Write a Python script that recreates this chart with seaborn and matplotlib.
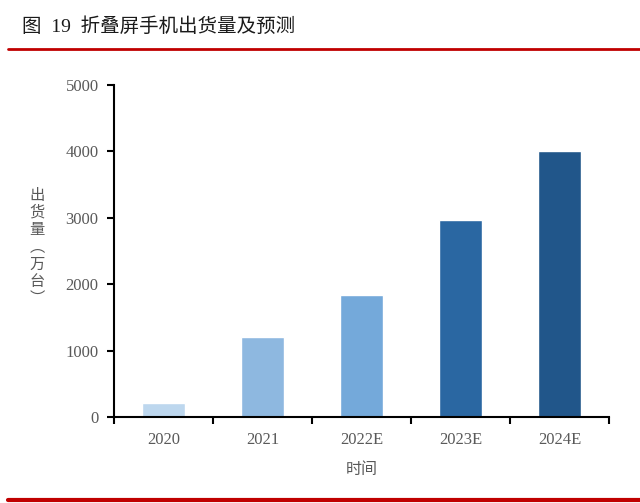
import matplotlib
matplotlib.use("Agg")
import matplotlib.pyplot as plt
import seaborn as sns
import pandas as pd
from matplotlib.lines import Line2D

categories = ["2020", "2021", "2022E", "2023E", "2024E"]
shipments = [215, 1200, 1830, 2970, 4000]
colors = ["#BDD7EE", "#8EB8E0", "#74A9DA", "#2A67A2", "#21568A"]
y_ticks = [0, 1000, 2000, 3000, 4000, 5000]

sns.set_theme(style="white")
plt.rcParams['font.family'] = ['Liberation Serif', 'Noto Sans CJK SC', 'DejaVu Sans']

df = pd.DataFrame({"year": categories, "value": shipments})

fig = plt.figure(figsize=(6.4, 5.03), dpi=100)
ax = fig.add_axes([0.178, 0.171, 0.774, 0.660])

sns.barplot(data=df, x="year", y="value", hue="year", palette=colors,
            width=0.43, legend=False, ax=ax, saturation=1)

ax.set_xlim(-0.5, 4.5)
ax.set_ylim(0, 5000)
ax.set_yticks(y_ticks)
ax.set_yticklabels([str(v) for v in y_ticks], fontsize=12, color="#595959")
ax.set_xticks(range(len(categories)))
ax.set_xticklabels(categories, fontsize=12, color="#595959")
ax.set_xticks([i - 0.5 for i in range(len(categories) + 1)], minor=True)
ax.tick_params(axis="x", which="major", length=0, pad=11)
ax.tick_params(axis="x", which="minor", length=5, width=1.5, color="black", direction="out", bottom=True)
ax.tick_params(axis="y", which="major", length=5, width=1.5, color="black", direction="out", left=True, pad=6)

for s in ["top", "right"]:
    ax.spines[s].set_visible(False)
for s in ["left", "bottom"]:
    ax.spines[s].set_color("black")
    ax.spines[s].set_linewidth(1.5)

ax.set_xlabel("时间", fontsize=11.5, color="#595959", family=['Noto Sans CJK SC'], labelpad=9)
ax.set_ylabel("")

fig.text(37/640, 1 - 247/503, "出\n货\n量\n︵\n万\n台\n︶", ha="center", va="center",
         fontsize=11, color="#595959", family=['Noto Sans CJK SC'], linespacing=1.02)

fig.text(22/640, 1 - 27/503, "图  19  折叠屏手机出货量及预测", ha="left", va="center",
         fontsize=14, color="#1a1a1a", fontweight="medium",
         family=['Liberation Serif', 'Noto Sans CJK SC', 'DejaVu Sans'])

fig.add_artist(Line2D([8/640, 1.0], [1 - 48.5/503] * 2, color="#C00000", linewidth=2,
                      transform=fig.transFigure))
fig.add_artist(Line2D([8/640, 1.0], [1 - 500/503] * 2, color="#C00000", linewidth=3,
                      transform=fig.transFigure))

fig.savefig("out.png", dpi=100)
